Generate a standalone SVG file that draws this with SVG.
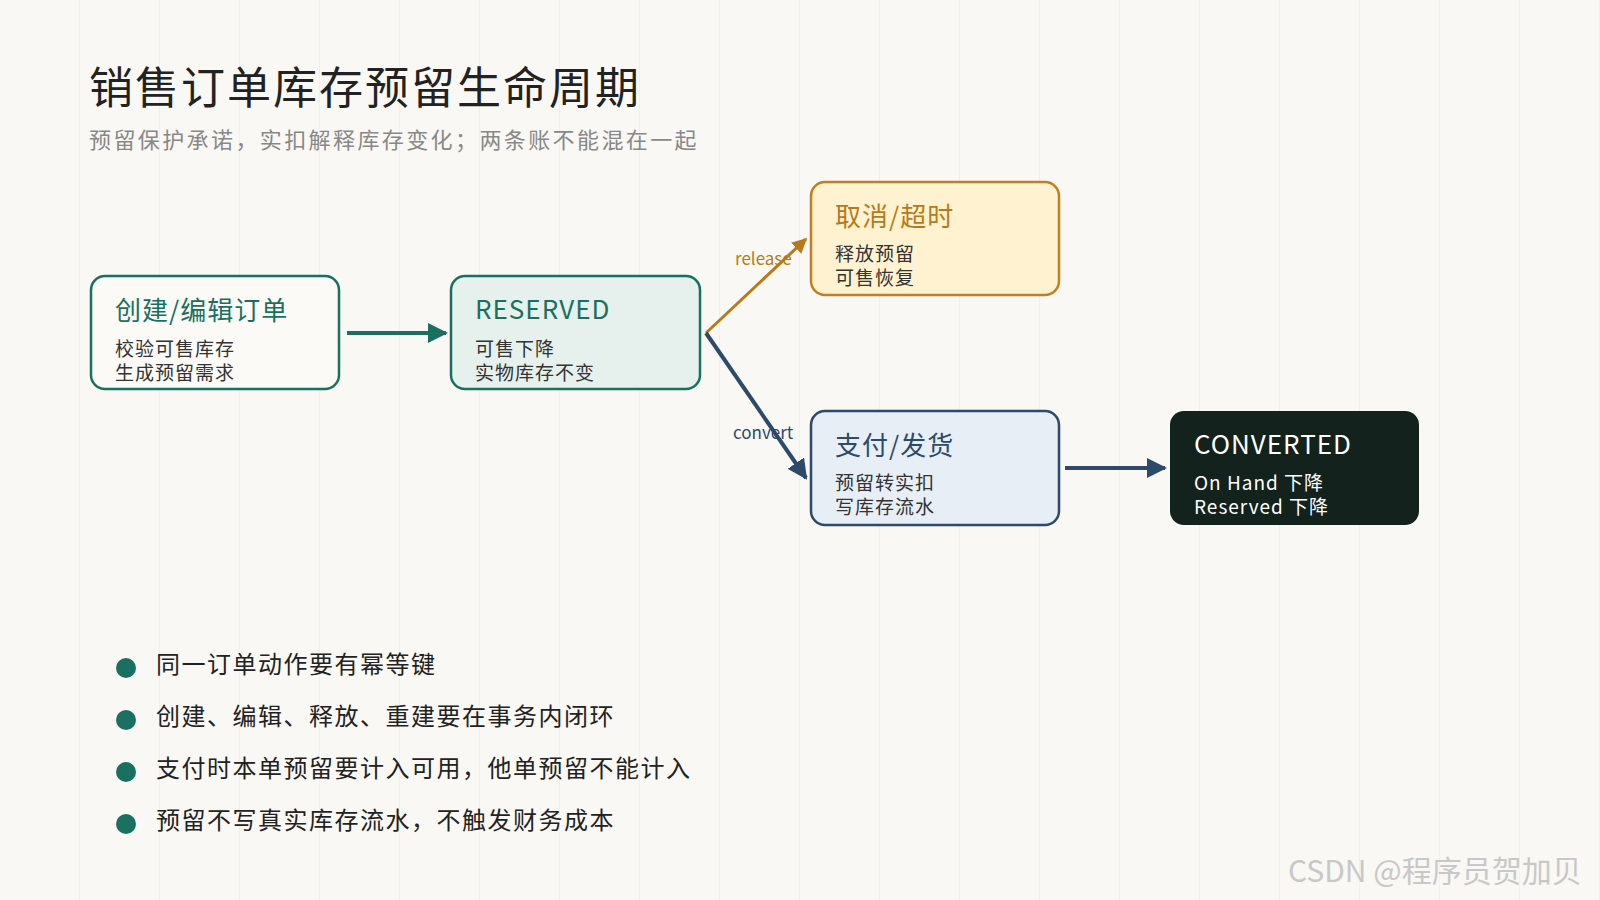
<svg xmlns="http://www.w3.org/2000/svg" width="1600" height="900" viewBox="0 0 1600 900">
<defs>
<pattern id="grid" width="80" height="900" patternUnits="userSpaceOnUse"><line x1="80" y1="0" x2="80" y2="900" stroke="#ebe8df" stroke-width="1"/></pattern>
<marker id="mt" viewBox="0 0 10 10" refX="9" refY="5" markerWidth="5" markerHeight="5" orient="auto"><path d="M0,0L10,5L0,10z" fill="#1a7060"/></marker>
<marker id="mo" viewBox="0 0 10 10" refX="9" refY="5" markerWidth="5" markerHeight="5" orient="auto"><path d="M0,0L10,5L0,10z" fill="#b8791a"/></marker>
<marker id="mb" viewBox="0 0 10 10" refX="9" refY="5" markerWidth="5" markerHeight="5" orient="auto"><path d="M0,0L10,5L0,10z" fill="#2d4a6a"/></marker>
</defs>
<style>
text{font-family:"Noto Sans CJK SC","Noto Sans",sans-serif}
.h{font-size:26px;letter-spacing:1px}.b{font-size:19px;fill:#333;letter-spacing:1px}
.box{stroke-width:2.5}
.bl{font-size:24px;fill:#222;letter-spacing:1.5px}
</style>
<rect width="1600" height="900" fill="#f9f8f4"/>
<rect width="1600" height="900" fill="url(#grid)"/>
<text x="89" y="104" font-size="44" fill="#222" letter-spacing="2">销售订单库存预留生命周期</text>
<text x="89" y="148" font-size="22" fill="#888" letter-spacing="2.4">预留保护承诺，实扣解释库存变化；两条账不能混在一起</text>
<g id="connectors" fill="none" stroke-width="4">
<line x1="347" y1="333" x2="446" y2="333" stroke="#1a7060" marker-end="url(#mt)"/>
<line x1="706" y1="333" x2="806" y2="239" stroke="#b8791a" stroke-width="3" marker-end="url(#mo)"/>
<line x1="706" y1="333" x2="806" y2="478" stroke="#2d4a6a" marker-end="url(#mb)"/>
<line x1="1065" y1="468" x2="1165" y2="468" stroke="#2d4a6a" marker-end="url(#mb)"/>
<text x="735" y="265" font-size="17" fill="#b8791a" stroke="none">release</text>
<text x="733" y="439" font-size="17" fill="#2d4a6a" stroke="none">convert</text>
</g>
<g id="n1"><rect class="box" x="91" y="276" width="248" height="113" rx="14" fill="#fbfaf6" stroke="#1a7060"/>
<text x="115" y="320" class="h" fill="#1a7060">创建/编辑订单</text><text x="115" y="356" class="b">校验可售库存</text><text x="115" y="380" class="b">生成预留需求</text></g>
<g id="n2"><rect class="box" x="451" y="276" width="249" height="113" rx="14" fill="#e6f0ec" stroke="#1a7060"/>
<text x="475" y="319" class="h" fill="#1a7060">RESERVED</text><text x="475" y="356" class="b">可售下降</text><text x="475" y="380" class="b">实物库存不变</text></g>
<g id="n3"><rect class="box" x="811" y="182" width="248" height="113" rx="14" fill="#fff2d0" stroke="#c08020"/>
<text x="835" y="226" class="h" fill="#b8791a">取消/超时</text><text x="835" y="261" class="b">释放预留</text><text x="835" y="285" class="b">可售恢复</text></g>
<g id="n4"><rect class="box" x="811" y="411" width="248" height="114" rx="14" fill="#e8eef6" stroke="#2d4a6a"/>
<text x="835" y="455" class="h" fill="#2d4a6a">支付/发货</text><text x="835" y="490" class="b">预留转实扣</text><text x="835" y="514" class="b">写库存流水</text></g>
<g id="n5"><rect x="1170" y="411" width="249" height="114" rx="14" fill="#13221d"/>
<text x="1194" y="454" class="h" fill="#fff">CONVERTED</text><text x="1194" y="490" class="b" style="fill:#fff">On Hand 下降</text><text x="1194" y="514" class="b" style="fill:#fff">Reserved 下降</text></g>
<g id="bullets" fill="#1a7060">
<circle cx="126" cy="668" r="10"/><circle cx="126" cy="720" r="10"/><circle cx="126" cy="772" r="10"/><circle cx="126" cy="824" r="10"/>
<text x="156" y="673" class="bl">同一订单动作要有幂等键</text>
<text x="156" y="725" class="bl">创建、编辑、释放、重建要在事务内闭环</text>
<text x="156" y="777" class="bl">支付时本单预留要计入可用，他单预留不能计入</text>
<text x="156" y="829" class="bl">预留不写真实库存流水，不触发财务成本</text>
</g>
<text x="1288" y="882" font-size="30" fill="#c8c8c8">CSDN @程序员贺加贝</text>
</svg>
